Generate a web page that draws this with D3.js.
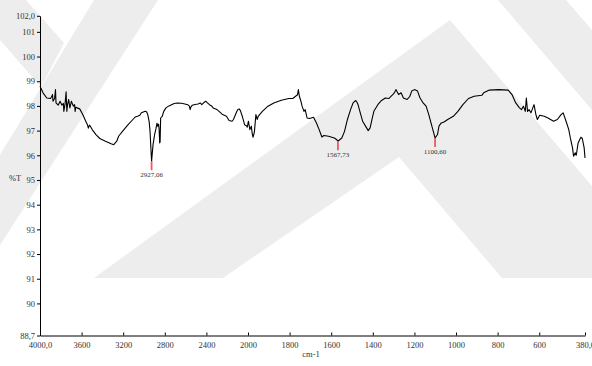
<!DOCTYPE html>
<html>
<head>
<meta charset="utf-8">
<script src="https://cdn.jsdelivr.net/npm/d3@7"></script>
<style>
  body { margin: 0; background: #fff; }
  svg { display: block; }
  .axis text { font-family: "Liberation Serif", serif; font-size: 8.5px; fill: #333; }
  .axis path, .axis line { stroke: #000; }
</style>
</head>
<body>
<svg width="592" height="366"></svg>
<script>
// spectrum (cm-1, %T)
const specWn = [4000, 3971, 3935, 3898, 3885, 3880, 3875, 3860, 3851, 3846, 3825, 3807, 3789, 3775, 3771, 3760, 3749, 3745, 3742, 3735, 3724, 3713, 3698, 3680, 3668, 3662, 3655, 3644, 3618, 3589, 3560, 3545, 3535, 3525, 3516, 3498, 3462, 3425, 3371, 3316, 3291, 3262, 3244, 3235, 3207, 3153, 3098, 3085, 3062, 3040, 3025, 2989, 2975, 2964, 2950, 2942, 2935, 2927.06, 2920, 2913, 2898, 2884, 2875, 2869, 2860, 2855, 2849, 2845, 2840, 2825, 2810, 2789, 2760, 2735, 2710, 2680, 2640, 2607, 2580, 2564, 2556, 2550, 2535, 2510, 2480, 2460, 2444, 2420, 2407, 2390, 2371, 2350, 2335, 2298, 2270, 2244, 2207, 2182, 2153, 2140, 2127, 2110, 2098, 2085, 2073, 2055, 2040, 2033, 2015, 2007, 1998, 1991, 1984, 1980, 1976, 1972, 1969, 1962, 1956, 1951, 1931, 1904, 1876, 1840, 1804, 1785, 1771, 1762, 1758, 1753, 1746, 1740, 1731, 1725, 1716, 1704, 1685, 1671, 1658, 1645, 1635, 1613, 1585, 1575, 1567.73, 1558, 1549, 1536, 1522, 1507, 1495, 1482, 1476, 1471, 1458, 1449, 1435, 1422, 1413, 1404, 1395, 1376, 1358, 1340, 1322, 1313, 1304, 1295, 1289, 1282, 1276, 1264, 1253, 1235, 1222, 1213, 1200, 1185, 1173, 1158, 1144, 1131, 1118, 1107, 1100.6, 1089, 1082, 1071, 1058, 1040, 1013, 991, 967, 940, 913, 876, 867, 840, 795, 749, 731, 713, 695, 685, 676, 667, 662, 656, 649, 640, 631, 625, 616, 609, 598, 576, 558, 531, 513, 495, 485, 471, 458, 449, 440, 435, 427, 422, 413, 400, 393, 384, 380];
const specT = [98.80, 98.53, 98.32, 98.30, 98.40, 98.46, 98.19, 98.30, 98.66, 98.12, 98.03, 98.19, 98.03, 98.10, 97.78, 98.05, 98.57, 98.10, 97.78, 98.05, 98.26, 97.92, 98.19, 97.99, 98.05, 97.78, 97.95, 97.92, 97.88, 97.65, 97.38, 97.25, 97.10, 97.22, 97.18, 97.04, 96.84, 96.68, 96.57, 96.47, 96.43, 96.57, 96.77, 96.82, 96.97, 97.24, 97.49, 97.55, 97.58, 97.62, 97.72, 97.78, 97.76, 97.65, 97.35, 96.97, 96.40, 95.76, 96.10, 96.43, 96.84, 97.10, 97.30, 97.18, 97.26, 97.08, 96.50, 96.55, 97.51, 97.58, 97.78, 97.92, 98.00, 98.05, 98.10, 98.12, 98.11, 98.08, 98.05, 97.99, 97.85, 97.95, 98.03, 98.06, 98.08, 98.12, 98.05, 98.15, 98.19, 98.12, 98.05, 98.00, 97.92, 97.85, 97.75, 97.65, 97.58, 97.41, 97.38, 97.45, 97.58, 97.75, 97.85, 97.88, 97.81, 97.58, 97.35, 97.24, 97.20, 97.14, 97.38, 97.04, 97.18, 96.90, 96.73, 96.85, 96.97, 97.65, 97.45, 97.58, 97.78, 97.99, 98.12, 98.23, 98.30, 98.30, 98.39, 98.45, 98.66, 98.39, 98.20, 97.99, 97.78, 97.85, 97.51, 97.49, 97.54, 97.31, 97.04, 96.74, 96.80, 96.77, 96.70, 96.64, 96.57, 96.64, 96.70, 96.97, 97.45, 97.85, 98.12, 98.22, 98.15, 98.05, 97.65, 97.38, 97.18, 97.00, 97.11, 97.45, 97.78, 98.05, 98.22, 98.32, 98.30, 98.39, 98.46, 98.55, 98.66, 98.55, 98.46, 98.53, 98.32, 98.26, 98.39, 98.60, 98.66, 98.60, 98.32, 98.12, 97.99, 97.65, 97.24, 96.90, 96.70, 96.84, 97.18, 97.31, 97.35, 97.45, 97.58, 97.78, 98.05, 98.30, 98.39, 98.43, 98.53, 98.64, 98.66, 98.64, 98.46, 98.12, 97.92, 97.85, 97.99, 97.78, 98.32, 97.78, 97.85, 97.72, 97.92, 98.05, 97.65, 97.45, 97.62, 97.58, 97.51, 97.38, 97.45, 97.65, 97.72, 97.38, 97.04, 96.64, 96.30, 95.96, 96.10, 96.00, 96.50, 96.73, 96.68, 96.30, 95.89];

const peakWn = [2927.06, 1567.73, 1100.6];
const peakT = [95.76, 96.57, 96.70];
const peakLabels = ["2927,06", "1567,73", "1100,60"];

const xTickValues = [4000, 3600, 3200, 2800, 2400, 2000, 1800, 1600, 1400, 1200, 1000, 800, 600, 380];
const xTickLabels = ["4000,0", "3600", "3200", "2800", "2400", "2000", "1800", "1600", "1400", "1200", "1000", "800", "600", "380,0"];
const yTickValues = [88.7, 90, 91, 92, 93, 94, 95, 96, 97, 98, 99, 100, 101, 101.65];
const yTickLabels = ["88,7", "90", "91", "92", "93", "94", "95", "96", "97", "98", "99", "100", "101", "102,0"];

const svg = d3.select("svg");

// watermark in the background
const wm = svg.append("g").attr("fill", "#ededed");
[
  [[0, 0], [26, 0], [64, 43], [41, 87], [0, 40]],
  [[94, 0], [158, 0], [0, 245], [0, 155]],
  [[94, 278], [450, 20], [592, 186], [592, 278], [502, 278], [399, 157], [223, 278]],
  [[498, 0], [566, 0], [592, 30], [592, 110]]
].forEach((pts) => {
  wm.append("polygon").attr("points", pts.map((p) => p.join(",")).join(" "));
});

// the x scale changes pitch at 2000 cm-1
const x = d3.scaleLinear().domain([4000, 2000, 380]).range([40, 248, 585]);
const y = d3.scaleLinear().domain([88.7, 101.65]).range([335.5, 15.8]);

const xAxis = d3.axisBottom(x)
  .tickValues(xTickValues)
  .tickFormat((d, i) => xTickLabels[i])
  .tickSizeInner(-3)
  .tickSizeOuter(0)
  .tickPadding(6);
svg.append("g")
  .attr("class", "axis")
  .attr("transform", "translate(0,335.5)")
  .call(xAxis);

const yAxis = d3.axisLeft(y)
  .tickValues(yTickValues)
  .tickFormat((d, i) => yTickLabels[i])
  .tickSizeInner(3)
  .tickSizeOuter(0)
  .tickPadding(2);
svg.append("g")
  .attr("class", "axis")
  .attr("transform", "translate(40,0)")
  .call(yAxis);

svg.selectAll(".axis text").attr("font-family", null).attr("font-size", null);

svg.append("text")
  .attr("x", 9).attr("y", 181)
  .style("font-family", "Liberation Serif").style("font-size", "8.5px").style("fill", "#333")
  .text("%T");
svg.append("text")
  .attr("x", 311).attr("y", 357)
  .attr("text-anchor", "middle")
  .style("font-family", "Liberation Serif").style("font-size", "8.5px").style("fill", "#333")
  .text("cm-1");

const line = d3.line()
  .x((d, i) => x(specWn[i]))
  .y((d, i) => y(specT[i]));
svg.append("path")
  .datum(specWn)
  .attr("d", line)
  .attr("fill", "none")
  .attr("stroke", "#000")
  .attr("stroke-width", 1.1)
  .attr("stroke-linejoin", "round");

// peak markers
const peaks = svg.append("g");
peakWn.forEach((wn, i) => {
  const px = x(wn), py = y(peakT[i]);
  peaks.append("line")
    .attr("x1", px).attr("x2", px)
    .attr("y1", py).attr("y2", py + 9)
    .attr("stroke", "#f05a5a")
    .attr("stroke-width", 1.8);
  peaks.append("text")
    .attr("x", px).attr("y", py + 15.5)
    .attr("text-anchor", "middle")
    .style("font-family", "Liberation Serif").style("font-size", "7px").style("fill", "#333")
    .text(peakLabels[i]);
});
</script>
</body>
</html>
